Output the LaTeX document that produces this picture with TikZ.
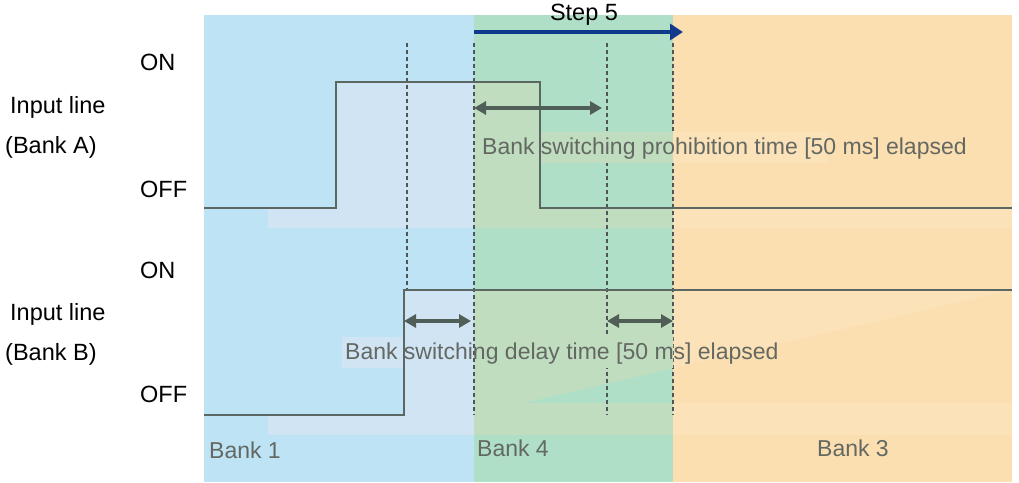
\documentclass[tikz,border=0pt]{standalone}
\usepackage{fontspec}
\setmainfont{Liberation Sans}
\usetikzlibrary{arrows.meta, positioning}

\definecolor{bankblue}{HTML}{BEE3F4}
\definecolor{bankgreen}{HTML}{B0DFC8}
\definecolor{bankorange}{HTML}{FBDFB1}
\definecolor{paleblue}{HTML}{D1E4F4}
\definecolor{palegreen}{HTML}{C0DDC0}
\definecolor{paleorange}{HTML}{FCE2B9}
\definecolor{wavegray}{HTML}{5B6762}
\definecolor{spangray}{HTML}{4F5E56}
\definecolor{notegray}{HTML}{636862}
\definecolor{markgray}{HTML}{4E5656}
\definecolor{stepblue}{HTML}{103A8C}

% pale band over the three bank areas, clipped to a shape
\newcommand{\paleband}[1]{%
	\begin{scope}
		\clip #1;
		\fill[paleblue] (204,15) rectangle (474,482);
		\fill[palegreen] (474,15) rectangle (673,482);
		\fill[paleorange] (673,15) rectangle (1012,482);
	\end{scope}}

\begin{document}
\begin{tikzpicture}[x=1pt, y=-1pt,
		% Texte à gauche (niveaux et lignes)
		levellabel/.style={
			font=\fontsize{23.5}{28}\selectfont,
			text=black,
			inner sep=0pt,
			anchor=west
		},
		% Notes grises dans le chronogramme
		notelabel/.style={
			font=\fontsize{23}{27}\selectfont,
			text=notegray,
			inner sep=0pt,
			anchor=west
		},
		% Signal d'entrée
		wave/.style={
			wavegray,
			line width=2pt
		},
		% Repères verticaux
		marker/.style={
			markgray,
			line width=2.5pt,
			dash pattern=on 4pt off 3pt
		},
		% Durées
		span/.style={
			{Triangle[length=12pt,width=13pt]}-{Triangle[length=12pt,width=13pt]},
			spangray,
			line width=3.5pt
		}
		]
		\useasboundingbox (0,0) rectangle (1019,482);
		
		% --- ZONES DES BANKS ---
		\fill[bankblue] (204,15) rectangle (474,482);
		\fill[bankgreen] (474,15) rectangle (673,482);
		\fill[bankorange] (673,15) rectangle (1012,482);
		
		\paleband{(336,82) -- (540,82) -- (540,208) -- (1012,208) -- (1012,228) -- (268,228) -- (268,208) -- (336,208) -- cycle}
		\paleband{(404,290) -- (1012,290) -- (523,403) -- (1012,403) -- (1012,435) -- (268,435) -- (268,415) -- (404,415) -- cycle}
		
		% --- REPÈRES ---
		\coordinate (t0) at (407,43);
		\coordinate (t1) at (474,43);
		\coordinate (t2) at (607,43);
		\coordinate (t3) at (673,43);
		\draw[marker] (t0) -- (t0 |- 0,290);
		\draw[marker] (t2) -- (t2 |- 0,415);
		\draw[marker] (t3) -- (t3 |- 0,415);
		
		\paleband{(474,132) rectangle (827,162)}
		\paleband{(342,337) rectangle (673,367)}
		
		\draw[marker] (t1) -- (t1 |- 0,415);
		
		% --- SIGNAUX ---
		\coordinate (a0) at (204,208);
		\coordinate (a1) at (336,82);
		\coordinate (a2) at (540,82);
		\coordinate (a3) at (1012,208);
		\draw[wave] (a0) -| (a1) -- (a2) |- (a3);
		
		\coordinate (b0) at (204,415);
		\coordinate (b1) at (404,290);
		\coordinate (b2) at (1012,290);
		\draw[wave] (b0) -| (b1) -- (b2);
		
		% --- DURÉES ---
		\coordinate (p0) at (474,108);
		\coordinate (p1) at (602,108);
		\draw[span] (p0) -- (p1);
		
		\coordinate (d0) at (404,321);
		\coordinate (d1) at (471,321);
		\coordinate (d2) at (607,321);
		\coordinate (d3) at (673,321);
		\draw[span] (d0) -- (d1);
		\draw[span] (d2) -- (d3);
		
		% --- STEP ---
		\coordinate (s0) at (474,32);
		\coordinate (s1) at (683,32);
		\draw[-{Triangle[length=13pt,width=16pt]}, stepblue, line width=4pt] (s0) -- (s1);
		\node[levellabel, anchor=center] (step) at (584,15) {Step 5};
		
		% --- TEXTES ---
		\node[levellabel] (onA) at (140,62) {ON};
		\node[levellabel] (offA) at (140,189) {OFF};
		\node[levellabel] (onB) at (140,270) {ON};
		\node[levellabel] (offB) at (140,394) {OFF};
		
		\node[levellabel] (lineA) at (10,107) {Input line};
		\node[levellabel] (bankA) at (5,147) {(Bank A)};
		\node[levellabel] (lineB) at (10,314) {Input line};
		\node[levellabel] (bankB) at (5,354) {(Bank B)};
		
		\node[notelabel] (prohib) at (482,149) {Bank switching prohibition time [50 ms] elapsed};
		\node[notelabel] (delay) at (345,354) {Bank switching delay time [50 ms] elapsed};
		
		\node[notelabel] (bank1) at (209,450) {Bank 1};
		\node[notelabel] (bank4) at (477,448) {Bank 4};
		\node[notelabel, anchor=center] (bank3) at (853,448) {Bank 3};
		
	\end{tikzpicture}
\end{document}
